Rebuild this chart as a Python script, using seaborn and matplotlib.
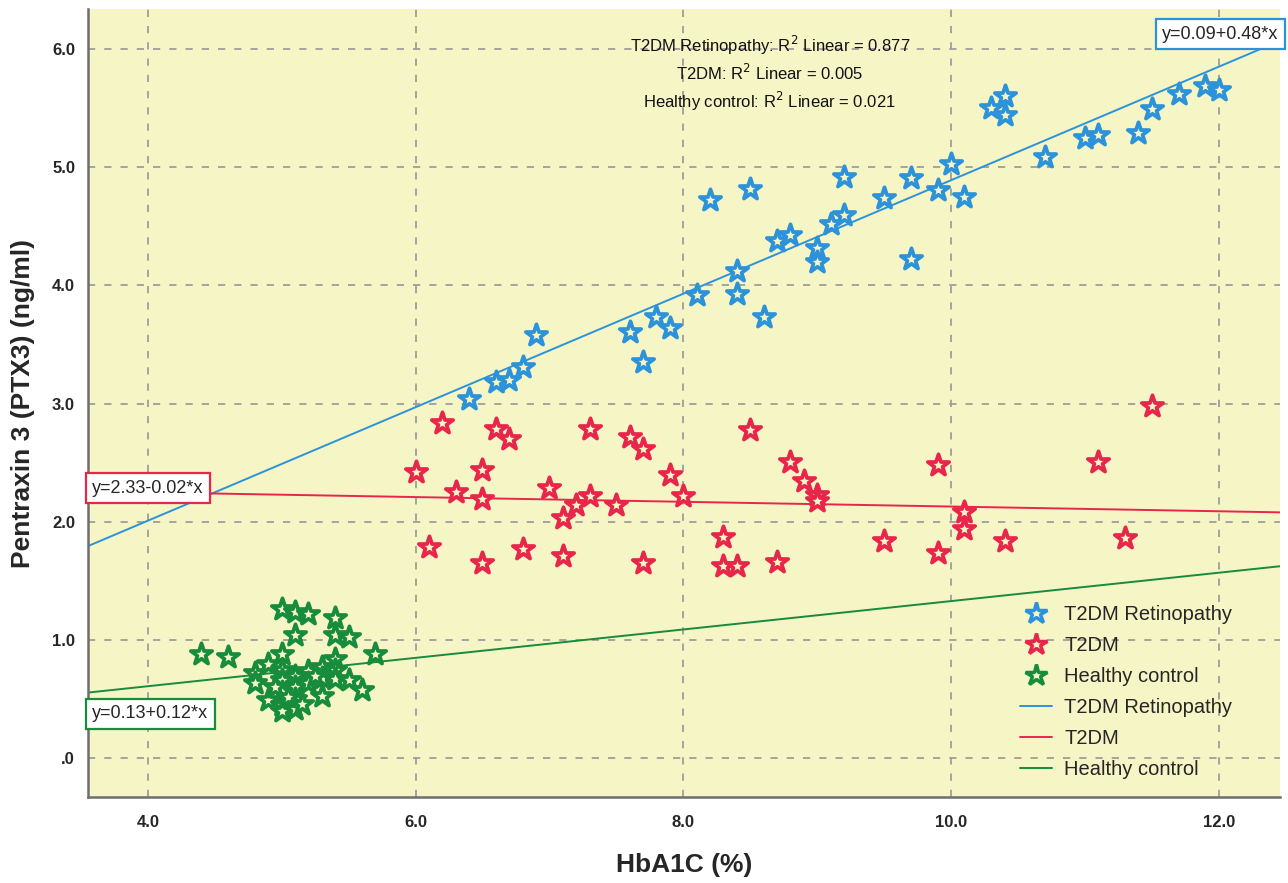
import numpy as np
import pandas as pd
import matplotlib
matplotlib.use("Agg")
import matplotlib.pyplot as plt
import seaborn as sns
from matplotlib.lines import Line2D

# ---------------- data ----------------
groups = ["T2DM Retinopathy", "T2DM", "Healthy control"]

retino_x = [6.4, 6.6, 6.7, 6.8, 6.9, 7.6, 7.7, 7.8, 7.9, 8.1, 8.2, 8.4, 8.4, 8.5, 8.6,
            8.7, 8.8, 9.0, 9.0, 9.1, 9.2, 9.2, 9.5, 9.7, 9.7, 9.9, 10.0, 10.1, 10.3,
            10.4, 10.4, 10.7, 11.0, 11.1, 11.4, 11.5, 11.7, 11.9, 12.0]
retino_y = [3.04, 3.18, 3.20, 3.31, 3.58, 3.61, 3.35, 3.73, 3.64, 3.92, 4.72, 4.12, 3.93,
            4.82, 3.73, 4.38, 4.43, 4.32, 4.20, 4.52, 4.60, 4.92, 4.74, 4.91, 4.22, 4.81,
            5.03, 4.75, 5.50, 5.60, 5.44, 5.09, 5.25, 5.27, 5.29, 5.49, 5.62, 5.69, 5.65]

t2dm_x = [6.0, 6.1, 6.2, 6.3, 6.5, 6.5, 6.5, 6.6, 6.7, 6.8, 7.0, 7.1, 7.1, 7.2, 7.3, 7.3,
          7.5, 7.6, 7.7, 7.7, 7.9, 8.0, 8.3, 8.3, 8.4, 8.5, 8.7, 8.8, 8.9, 9.0, 9.0, 9.5,
          9.9, 9.9, 10.1, 10.1, 10.4, 11.1, 11.3, 11.5]
t2dm_y = [2.42, 1.79, 2.84, 2.25, 2.44, 2.19, 1.65, 2.79, 2.70, 1.77, 2.29, 2.03, 1.71,
          2.14, 2.22, 2.79, 2.14, 2.72, 2.62, 1.65, 2.40, 2.22, 1.87, 1.63, 1.63, 2.78,
          1.66, 2.51, 2.35, 2.23, 2.18, 1.84, 2.48, 1.74, 2.08, 1.94, 1.84, 2.51, 1.86, 2.98]

healthy_x = [4.4, 4.6, 4.8, 4.8, 4.9, 4.9, 5.0, 5.0, 5.0, 5.0, 5.0, 5.0, 5.0, 5.1, 5.1,
             5.1, 5.1, 5.1, 5.1, 5.2, 5.2, 5.2, 5.3, 5.3, 5.3, 5.4, 5.4, 5.4, 5.4, 5.4,
             5.5, 5.5, 5.6, 5.7, 5.05, 5.15, 5.25, 4.95]
healthy_y = [0.88, 0.86, 0.72, 0.64, 0.80, 0.49, 1.26, 0.88, 0.75, 0.66, 0.56, 0.45, 0.40,
             1.24, 1.04, 0.70, 0.60, 0.50, 0.42, 1.22, 0.74, 0.64, 0.77, 0.68, 0.53, 1.19,
             1.04, 0.84, 0.75, 0.67, 1.03, 0.66, 0.58, 0.88, 0.52, 0.46, 0.70, 0.60]

intercepts = [0.09, 2.33, 0.13]
slopes = [0.48, -0.02, 0.12]
eq_labels = ["y=0.09+0.48*x", "y=2.33-0.02*x", "y=0.13+0.12*x"]
r2_lines = ["T2DM Retinopathy: R$^2$ Linear = 0.877",
            "T2DM: R$^2$ Linear = 0.005",
            "Healthy control: R$^2$ Linear = 0.021"]

x_ticks = [4.0, 6.0, 8.0, 10.0, 12.0]
x_ticklabels = ["4.0", "6.0", "8.0", "10.0", "12.0"]
y_ticks = [0.0, 1.0, 2.0, 3.0, 4.0, 5.0, 6.0]
y_ticklabels = [".0", "1.0", "2.0", "3.0", "4.0", "5.0", "6.0"]

# ---------------- style ----------------
sns.set_theme(style="white")
plt.rcParams["font.family"] = ["Liberation Sans", "DejaVu Sans"]

colors = ["#2C93DA", "#E8264B", "#168C3C"]
bg = "#F6F5C6"

df = pd.DataFrame({
    "x": retino_x + t2dm_x + healthy_x,
    "y": retino_y + t2dm_y + healthy_y,
    "group": [groups[0]] * len(retino_x) + [groups[1]] * len(t2dm_x) + [groups[2]] * len(healthy_x),
})

fig = plt.figure(figsize=(12.88, 8.83), dpi=100)
ax = fig.add_axes([0.068, 0.097, 0.926, 0.893])
ax.set_facecolor(bg)

xlim = (3.55, 12.46)
ylim = (-0.33, 6.34)
ax.set_xlim(*xlim)
ax.set_ylim(*ylim)

# grid
ax.set_xticks(x_ticks)
ax.set_yticks(y_ticks)
ax.grid(True, color="#9E9E9E", linestyle=(0, (4, 5)), linewidth=1.3)
ax.set_axisbelow(True)

# regression lines
xs = np.array(xlim)
line_handles = []
for g, b0, b1, c in zip(groups, intercepts, slopes, colors):
    ax.plot(xs, b0 + b1 * xs, color=c, linewidth=1.4, zorder=2)
    line_handles.append(Line2D([0], [0], color=c, linewidth=1.4))

# scatter stars
star_handles = []
for g, c in zip(groups, colors):
    sub = df[df["group"] == g]
    sns.scatterplot(data=sub, x="x", y="y", marker="*", s=260, color=c,
                    facecolor=bg, edgecolor=c, linewidth=2.7, ax=ax, legend=False,
                    zorder=3)
    star_handles.append(Line2D([0], [0], linestyle="none", marker="*", markersize=16,
                               markerfacecolor=bg, markeredgecolor=c, markeredgewidth=2.5))

ax.set_xlim(*xlim)
ax.set_ylim(*ylim)

# tick labels
ax.set_xticklabels(x_ticklabels, fontweight="bold", fontsize=12)
ax.set_yticklabels(y_ticklabels, fontweight="bold", fontsize=12)
ax.tick_params(axis="x", length=4, color="#666666", pad=9)
ax.tick_params(axis="y", length=0, pad=9)

for side in ["top", "right"]:
    ax.spines[side].set_visible(False)
for side in ["left", "bottom"]:
    ax.spines[side].set_color("#6E6E6E")
    ax.spines[side].set_linewidth(1.8)

ax.set_xlabel("HbA1C (%)", fontsize=19, fontweight="bold", labelpad=16)
ax.set_ylabel("Pentraxin 3 (PTX3) (ng/ml)", fontsize=19, fontweight="bold", labelpad=12)

# R2 text block
ax.text(0.572, 0.968, "\n".join(r2_lines), transform=ax.transAxes, ha="center", va="top",
        fontsize=12, linespacing=1.35, color="#111111")

# equation boxes
box_kw = dict(boxstyle="square,pad=0.35", fc="white", lw=1.6)
ax.text(0.9985, 0.968, eq_labels[0], transform=ax.transAxes, ha="right", va="center",
        fontsize=13, bbox=dict(ec=colors[0], **box_kw))
ax.text(0.004, 0.392, eq_labels[1], transform=ax.transAxes, ha="left", va="center",
        fontsize=13, bbox=dict(ec=colors[1], **box_kw))
ax.text(0.004, 0.106, eq_labels[2], transform=ax.transAxes, ha="left", va="center",
        fontsize=13, bbox=dict(ec=colors[2], **box_kw))

ax.legend(star_handles + line_handles, groups + groups, loc="lower right",
          bbox_to_anchor=(0.975, 0.0), frameon=False, fontsize=14.5,
          handlelength=1.6, handletextpad=0.6, labelspacing=0.6)

fig.savefig("out.png", dpi=100, facecolor="white")
